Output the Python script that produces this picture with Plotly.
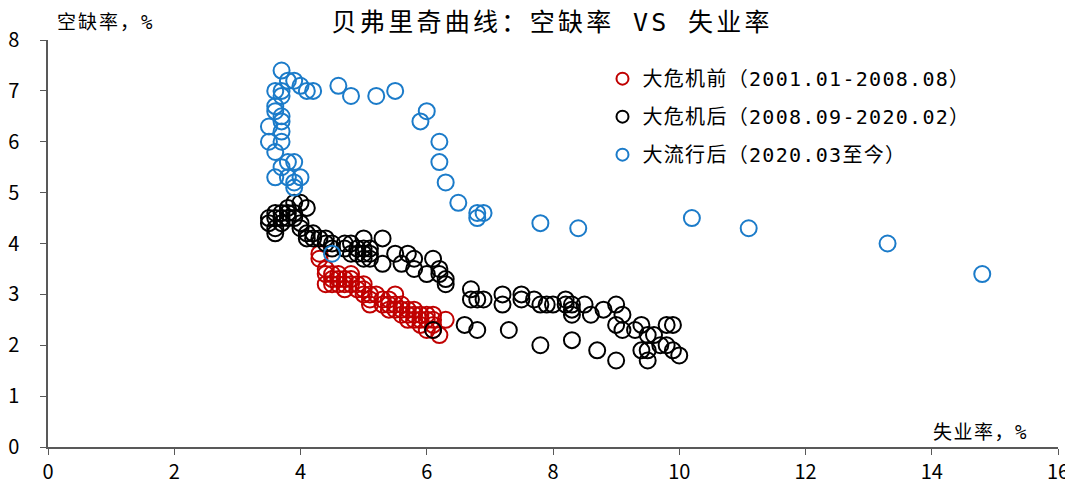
import plotly.graph_objects as go

# ---- data ----
pre_x = [4.3, 4.3, 4.4, 4.4, 4.4, 4.5, 4.5, 4.5, 4.6, 4.6, 4.6, 4.7, 4.7, 4.7, 4.8, 4.8, 4.8,
         4.9, 4.9, 5.0, 5.0, 5.0, 5.1, 5.1, 5.1, 5.2, 5.3, 5.3, 5.4, 5.4, 5.4, 5.5, 5.5, 5.5,
         5.6, 5.6, 5.6, 5.7, 5.7, 5.7, 5.8, 5.8, 5.8, 5.9, 5.9, 5.9, 6.0, 6.0, 6.0, 6.1, 6.1,
         6.1, 6.2, 6.1, 6.3]
pre_y = [3.8, 3.7, 3.5, 3.4, 3.2, 3.3, 3.2, 3.4, 3.3, 3.2, 3.4, 3.3, 3.2, 3.1, 3.3, 3.2, 3.4,
         3.1, 3.2, 3.0, 3.1, 3.2, 2.9, 3.0, 2.8, 3.0, 2.9, 2.8, 2.9, 2.7, 2.8, 3.0, 2.8, 2.7,
         2.7, 2.6, 2.8, 2.5, 2.6, 2.7, 2.6, 2.5, 2.7, 2.6, 2.5, 2.4, 2.5, 2.3, 2.6, 2.4, 2.5,
         2.6, 2.2, 2.3, 2.5]

post_x = [3.5, 3.5, 3.6, 3.6, 3.6, 3.6, 3.7, 3.7, 3.7, 3.8, 3.8, 3.8, 3.9, 3.9, 3.9, 4.0, 4.0,
          4.0, 4.1, 4.1, 4.2, 4.2, 4.3, 4.4, 4.4, 4.5, 4.5, 4.7, 4.7, 4.8, 4.8, 4.9, 4.9, 5.0,
          5.0, 5.0, 5.0, 5.1, 5.1, 5.1, 5.3, 5.3, 5.5, 5.6, 5.7, 5.8, 5.8, 6.0, 6.1, 6.2, 6.2,
          6.3, 6.3, 6.7, 6.7, 6.8, 6.9, 7.2, 7.2, 7.5, 7.5, 7.7, 7.8, 7.9, 8.0, 8.2, 8.2, 8.3,
          8.3, 8.3, 8.5, 8.6, 8.8, 9.0, 9.0, 9.1, 9.1, 9.3, 9.4, 9.5, 9.6, 9.4, 9.5, 9.5, 9.7,
          9.8, 9.9, 9.8, 9.9, 10.0, 6.6, 6.8, 7.3, 7.8, 8.3, 8.7, 9.0, 6.1, 4.1]
post_y = [4.4, 4.5, 4.6, 4.3, 4.2, 4.5, 4.4, 4.6, 4.5, 4.5, 4.6, 4.7, 4.8, 4.6, 4.5, 4.8, 4.4,
          4.3, 4.2, 4.1, 4.2, 4.1, 4.1, 4.0, 4.1, 3.9, 4.0, 3.9, 4.0, 4.0, 3.8, 3.9, 3.8, 3.9,
          3.8, 3.7, 4.1, 3.9, 3.8, 3.7, 4.1, 3.6, 3.8, 3.6, 3.8, 3.7, 3.5, 3.4, 3.7, 3.5, 3.4,
          3.3, 3.2, 2.9, 3.1, 2.9, 2.9, 3.0, 2.8, 3.0, 2.9, 2.9, 2.8, 2.8, 2.8, 2.8, 2.9, 2.8,
          2.7, 2.6, 2.8, 2.6, 2.7, 2.8, 2.4, 2.6, 2.3, 2.3, 2.4, 2.2, 2.2, 1.9, 1.9, 1.7, 2.0,
          2.4, 2.4, 2.0, 1.9, 1.8, 2.4, 2.3, 2.3, 2.0, 2.1, 1.9, 1.7, 2.3, 4.7]

pand_x = [3.7, 3.8, 3.9, 4.0, 4.1, 4.2, 4.6, 4.8, 5.2, 5.5, 6.0, 5.9, 6.2, 6.2, 6.3, 6.5,
          6.8, 6.9, 6.8, 7.8, 8.4, 10.2, 11.1, 13.3, 14.8, 4.5,
          3.6, 3.7, 3.7, 3.6, 3.6, 3.7, 3.7, 3.5, 3.7, 3.5, 3.7, 3.6, 3.7, 3.8, 3.9, 3.6,
          3.8, 4.0, 3.9, 3.9]
pand_y = [7.4, 7.2, 7.2, 7.1, 7.0, 7.0, 7.1, 6.9, 6.9, 7.0, 6.6, 6.4, 6.0, 5.6, 5.2, 4.8,
          4.6, 4.6, 4.5, 4.4, 4.3, 4.5, 4.3, 4.0, 3.4, 3.8,
          7.0, 7.0, 6.9, 6.7, 6.6, 6.5, 6.4, 6.3, 6.2, 6.0, 6.0, 5.8, 5.5, 5.6, 5.6, 5.3,
          5.3, 5.3, 5.2, 5.1]

names = ["大危机前（2001.01-2008.08）", "大危机后（2008.09-2020.02）", "大流行后（2020.03至今）"]
title_text = "贝弗里奇曲线：空缺率 VS 失业率"
ytitle_text = "空缺率，%"
xtitle_text = "失业率，%"
colors = ["#C00000", "#000000", "#1B7BC9"]

FONT = "Noto Sans CJK SC"
MIX = "DejaVu Sans Mono, Noto Sans CJK SC"


def spaced(s, px):
    return f'<span style="letter-spacing:{px}px">{s}</span>'


fig = go.Figure()
for i, (xs, ys) in enumerate([(pre_x, pre_y), (post_x, post_y), (pand_x, pand_y)]):
    fig.add_trace(go.Scatter(
        x=xs, y=ys, mode="markers", name=spaced(names[i], 1.3), legendgroup=f"g{i}",
        marker=dict(symbol="circle-open", size=16, color=colors[i],
                    line=dict(width=2, color=colors[i])),
    ))

# page body has an 8px margin: figure is 1065x481 so it fits the 1073x489 window
fig.update_layout(
    width=1065, height=481,
    margin=dict(l=40, r=15, t=32, b=42, autoexpand=False),
    paper_bgcolor="white", plot_bgcolor="white",
    font=dict(family=FONT, size=20, color="#000000"),
    title=dict(text=spaced(title_text, 3.3), x=0.511, xanchor="center",
               y=0.971, yanchor="middle",
               font=dict(family=MIX, size=25, color="#000")),
    showlegend=True,
    legend=dict(x=0.549, y=0.953, xanchor="left", yanchor="top",
                font=dict(family=MIX, size=20), tracegroupgap=9,
                itemsizing="constant", bgcolor="rgba(0,0,0,0)"),
    xaxis=dict(range=[0, 16], tickvals=[0, 2, 4, 6, 8, 10, 12, 14, 16], automargin=False,
               showgrid=False, zeroline=False, showline=True, linecolor="#595959",
               linewidth=1.5, ticks="outside", ticklen=6, tickcolor="#595959",
               tickfont=dict(family=FONT, size=20), ticklabelstandoff=0),
    yaxis=dict(range=[0, 8], tickvals=[0, 1, 2, 3, 4, 5, 6, 7, 8], automargin=False,
               showgrid=False, zeroline=False, showline=True, linecolor="#595959",
               linewidth=1.5, ticks="outside", ticklen=6, tickcolor="#595959",
               tickfont=dict(family=FONT, size=20), ticklabelstandoff=17),
    annotations=[
        dict(text=spaced(ytitle_text, 2), xref="paper", yref="paper", x=0.007, y=1.044,
             xanchor="left", yanchor="middle", showarrow=False,
             font=dict(family=MIX, size=19)),
        dict(text=spaced(xtitle_text, 1.5), xref="paper", yref="paper", x=0.972, y=0.037,
             xanchor="right", yanchor="middle", showarrow=False,
             font=dict(family=MIX, size=19)),
    ],
)

fig.write_html("out.html")
